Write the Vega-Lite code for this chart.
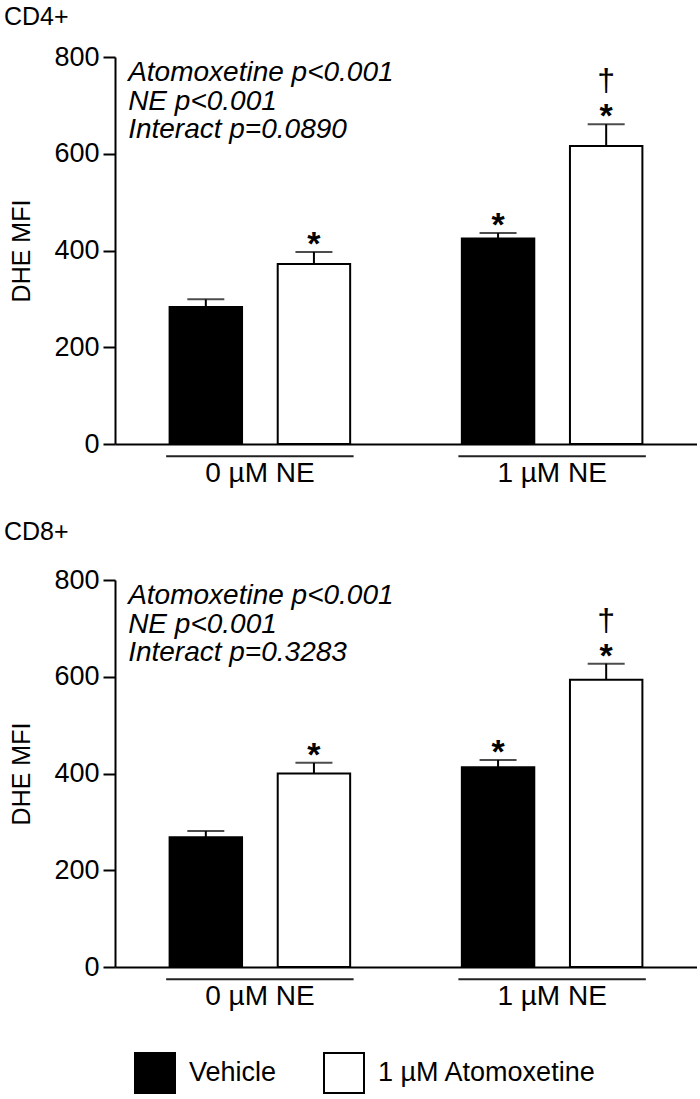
{
  "$schema": "https://vega.github.io/schema/vega-lite/v6.json",
  "padding": {"left": 3, "top": 5, "right": 0, "bottom": 0},
  "background": "white",
  "config": {
    "font": "Liberation Sans",
    "view": {"stroke": null},
    "axis": {"domainColor": "black", "domainWidth": 2, "tickColor": "black", "tickWidth": 2, "labelColor": "black", "titleColor": "black", "grid": false, "titleFontWeight": "normal"},
    "title": {"color": "black", "fontWeight": "normal"},
    "concat": {"spacing": 33}
  },
  "datasets": {
    "bars": [
      {"panel": "CD4+", "ne": "0 µM NE", "trt": "Vehicle", "mean": 283, "upper": 299, "star": "", "dagger": ""},
      {"panel": "CD4+", "ne": "0 µM NE", "trt": "1 µM Atomoxetine", "mean": 372, "upper": 397, "star": "*", "dagger": ""},
      {"panel": "CD4+", "ne": "1 µM NE", "trt": "Vehicle", "mean": 425, "upper": 436, "star": "*", "dagger": ""},
      {"panel": "CD4+", "ne": "1 µM NE", "trt": "1 µM Atomoxetine", "mean": 616, "upper": 661, "star": "*", "dagger": "†"},
      {"panel": "CD8+", "ne": "0 µM NE", "trt": "Vehicle", "mean": 268, "upper": 281, "star": "", "dagger": ""},
      {"panel": "CD8+", "ne": "0 µM NE", "trt": "1 µM Atomoxetine", "mean": 400, "upper": 422, "star": "*", "dagger": ""},
      {"panel": "CD8+", "ne": "1 µM NE", "trt": "Vehicle", "mean": 413, "upper": 428, "star": "*", "dagger": ""},
      {"panel": "CD8+", "ne": "1 µM NE", "trt": "1 µM Atomoxetine", "mean": 594, "upper": 627, "star": "*", "dagger": "†"}
    ],
    "notes": [
      {"panel": "CD4+", "lines": ["Atomoxetine p<0.001", "NE p<0.001", "Interact p=0.0890"]},
      {"panel": "CD8+", "lines": ["Atomoxetine p<0.001", "NE p<0.001", "Interact p=0.3283"]}
    ]
  },
  "vconcat": [
    {
      "width": 582,
      "height": 387,
      "title": {"text": "CD4+", "anchor": "start", "frame": "bounds", "fontSize": 25, "offset": 13, "dx": -6},
      "layer": [
        {
          "data": {"name": "bars"},
          "transform": [{"filter": "datum.panel === 'CD4+'"}],
          "mark": {"type": "bar", "stroke": "black", "strokeWidth": 2},
          "encoding": {
            "x": {"field": "ne", "type": "nominal", "sort": ["0 µM NE", "1 µM NE"], "scale": {"paddingInner": 0.3585, "paddingOuter": 0.175}, "axis": {"title": null, "ticks": false, "labelFontSize": 28, "labelPadding": 15, "labelAngle": 0}},
            "xOffset": {"field": "trt", "type": "nominal", "sort": ["Vehicle", "1 µM Atomoxetine"], "scale": {"paddingInner": 0.33, "paddingOuter": 0.032}},
            "y": {"field": "mean", "type": "quantitative", "scale": {"domain": [0, 800], "nice": false}, "axis": {"values": [0, 200, 400, 600, 800], "tickSize": 12, "labelFontSize": 27, "labelPadding": 4, "title": "DHE MFI", "titleFontSize": 25, "titlePadding": 19}},
            "fill": {"field": "trt", "type": "nominal", "sort": ["Vehicle", "1 µM Atomoxetine"], "scale": {"domain": ["Vehicle", "1 µM Atomoxetine"], "range": ["black", "white"]}, "legend": {"orient": "none", "legendX": 19, "legendY": 995, "direction": "horizontal", "title": null, "symbolType": "square", "symbolSize": 1600, "symbolStrokeColor": "black", "symbolStrokeWidth": 2, "symbolOpacity": 1, "labelFontSize": 27, "labelColor": "black", "labelOffset": 13, "labelLimit": 400, "columnPadding": 43, "padding": 0}}
          }
        },
        {
          "data": {"name": "bars"},
          "transform": [{"filter": "datum.panel === 'CD4+'"}],
          "mark": {"type": "rule", "color": "black", "strokeWidth": 2},
          "encoding": {
            "x": {"field": "ne", "type": "nominal", "sort": ["0 µM NE", "1 µM NE"]},
            "xOffset": {"field": "trt", "type": "nominal", "sort": ["Vehicle", "1 µM Atomoxetine"]},
            "y": {"field": "mean", "type": "quantitative"},
            "y2": {"field": "upper"}
          }
        },
        {
          "data": {"name": "bars"},
          "transform": [{"filter": "datum.panel === 'CD4+'"}],
          "mark": {"type": "tick", "color": "black", "size": 37, "thickness": 2, "orient": "horizontal"},
          "encoding": {
            "x": {"field": "ne", "type": "nominal", "sort": ["0 µM NE", "1 µM NE"]},
            "xOffset": {"field": "trt", "type": "nominal", "sort": ["Vehicle", "1 µM Atomoxetine"]},
            "y": {"field": "upper", "type": "quantitative"}
          }
        },
        {
          "data": {"name": "bars"},
          "transform": [{"filter": "datum.panel === 'CD4+' && datum.star !== ''"}],
          "mark": {"type": "text", "color": "black", "fontSize": 34, "fontWeight": "bold", "baseline": "alphabetic", "align": "center", "dy": 3},
          "encoding": {
            "x": {"field": "ne", "type": "nominal", "sort": ["0 µM NE", "1 µM NE"]},
            "xOffset": {"field": "trt", "type": "nominal", "sort": ["Vehicle", "1 µM Atomoxetine"]},
            "y": {"field": "upper", "type": "quantitative"},
            "text": {"field": "star"}
          }
        },
        {
          "data": {"name": "bars"},
          "transform": [{"filter": "datum.panel === 'CD4+' && datum.dagger !== ''"}],
          "mark": {"type": "text", "color": "black", "fontSize": 32, "baseline": "alphabetic", "align": "center", "dy": -33},
          "encoding": {
            "x": {"field": "ne", "type": "nominal", "sort": ["0 µM NE", "1 µM NE"]},
            "xOffset": {"field": "trt", "type": "nominal", "sort": ["Vehicle", "1 µM Atomoxetine"]},
            "y": {"field": "upper", "type": "quantitative"},
            "text": {"field": "dagger"}
          }
        },
        {
          "data": {"name": "bars"},
          "transform": [{"filter": "datum.panel === 'CD4+' && datum.trt === 'Vehicle'"}],
          "mark": {"type": "bar", "color": "#222222"},
          "encoding": {
            "x": {"field": "ne", "type": "nominal", "sort": ["0 µM NE", "1 µM NE"]},
            "y": {"datum": -23.5},
            "y2": {"datum": -27.5}
          }
        },
        {
          "data": {"name": "notes"},
          "transform": [{"filter": "datum.panel === 'CD4+'"}],
          "mark": {"type": "text", "color": "black", "fontSize": 28, "fontStyle": "italic", "align": "left", "baseline": "alphabetic", "lineHeight": 28.5, "dx": -38, "dy": 24},
          "encoding": {
            "x": {"datum": "0 µM NE", "bandPosition": 0},
            "y": {"datum": 800},
            "text": {"field": "lines"}
          }
        }
      ]
    },
    {
      "width": 582,
      "height": 387,
      "title": {"text": "CD8+", "anchor": "start", "frame": "bounds", "fontSize": 25, "offset": 21, "dx": -6},
      "layer": [
        {
          "data": {"name": "bars"},
          "transform": [{"filter": "datum.panel === 'CD8+'"}],
          "mark": {"type": "bar", "stroke": "black", "strokeWidth": 2},
          "encoding": {
            "x": {"field": "ne", "type": "nominal", "sort": ["0 µM NE", "1 µM NE"], "scale": {"paddingInner": 0.3585, "paddingOuter": 0.175}, "axis": {"title": null, "ticks": false, "labelFontSize": 28, "labelPadding": 15, "labelAngle": 0}},
            "xOffset": {"field": "trt", "type": "nominal", "sort": ["Vehicle", "1 µM Atomoxetine"], "scale": {"paddingInner": 0.33, "paddingOuter": 0.032}},
            "y": {"field": "mean", "type": "quantitative", "scale": {"domain": [0, 800], "nice": false}, "axis": {"values": [0, 200, 400, 600, 800], "tickSize": 12, "labelFontSize": 27, "labelPadding": 4, "title": "DHE MFI", "titleFontSize": 25, "titlePadding": 19}},
            "fill": {"field": "trt", "type": "nominal", "sort": ["Vehicle", "1 µM Atomoxetine"], "scale": {"domain": ["Vehicle", "1 µM Atomoxetine"], "range": ["black", "white"]}, "legend": {"orient": "none", "legendX": 19, "legendY": 995, "direction": "horizontal", "title": null, "symbolType": "square", "symbolSize": 1600, "symbolStrokeColor": "black", "symbolStrokeWidth": 2, "symbolOpacity": 1, "labelFontSize": 27, "labelColor": "black", "labelOffset": 13, "labelLimit": 400, "columnPadding": 43, "padding": 0}}
          }
        },
        {
          "data": {"name": "bars"},
          "transform": [{"filter": "datum.panel === 'CD8+'"}],
          "mark": {"type": "rule", "color": "black", "strokeWidth": 2},
          "encoding": {
            "x": {"field": "ne", "type": "nominal", "sort": ["0 µM NE", "1 µM NE"]},
            "xOffset": {"field": "trt", "type": "nominal", "sort": ["Vehicle", "1 µM Atomoxetine"]},
            "y": {"field": "mean", "type": "quantitative"},
            "y2": {"field": "upper"}
          }
        },
        {
          "data": {"name": "bars"},
          "transform": [{"filter": "datum.panel === 'CD8+'"}],
          "mark": {"type": "tick", "color": "black", "size": 37, "thickness": 2, "orient": "horizontal"},
          "encoding": {
            "x": {"field": "ne", "type": "nominal", "sort": ["0 µM NE", "1 µM NE"]},
            "xOffset": {"field": "trt", "type": "nominal", "sort": ["Vehicle", "1 µM Atomoxetine"]},
            "y": {"field": "upper", "type": "quantitative"}
          }
        },
        {
          "data": {"name": "bars"},
          "transform": [{"filter": "datum.panel === 'CD8+' && datum.star !== ''"}],
          "mark": {"type": "text", "color": "black", "fontSize": 34, "fontWeight": "bold", "baseline": "alphabetic", "align": "center", "dy": 3},
          "encoding": {
            "x": {"field": "ne", "type": "nominal", "sort": ["0 µM NE", "1 µM NE"]},
            "xOffset": {"field": "trt", "type": "nominal", "sort": ["Vehicle", "1 µM Atomoxetine"]},
            "y": {"field": "upper", "type": "quantitative"},
            "text": {"field": "star"}
          }
        },
        {
          "data": {"name": "bars"},
          "transform": [{"filter": "datum.panel === 'CD8+' && datum.dagger !== ''"}],
          "mark": {"type": "text", "color": "black", "fontSize": 32, "baseline": "alphabetic", "align": "center", "dy": -33},
          "encoding": {
            "x": {"field": "ne", "type": "nominal", "sort": ["0 µM NE", "1 µM NE"]},
            "xOffset": {"field": "trt", "type": "nominal", "sort": ["Vehicle", "1 µM Atomoxetine"]},
            "y": {"field": "upper", "type": "quantitative"},
            "text": {"field": "dagger"}
          }
        },
        {
          "data": {"name": "bars"},
          "transform": [{"filter": "datum.panel === 'CD8+' && datum.trt === 'Vehicle'"}],
          "mark": {"type": "bar", "color": "#222222"},
          "encoding": {
            "x": {"field": "ne", "type": "nominal", "sort": ["0 µM NE", "1 µM NE"]},
            "y": {"datum": -23.5},
            "y2": {"datum": -27.5}
          }
        },
        {
          "data": {"name": "notes"},
          "transform": [{"filter": "datum.panel === 'CD8+'"}],
          "mark": {"type": "text", "color": "black", "fontSize": 28, "fontStyle": "italic", "align": "left", "baseline": "alphabetic", "lineHeight": 28.5, "dx": -38, "dy": 24},
          "encoding": {
            "x": {"datum": "0 µM NE", "bandPosition": 0},
            "y": {"datum": 800},
            "text": {"field": "lines"}
          }
        }
      ]
    }
  ]
}
